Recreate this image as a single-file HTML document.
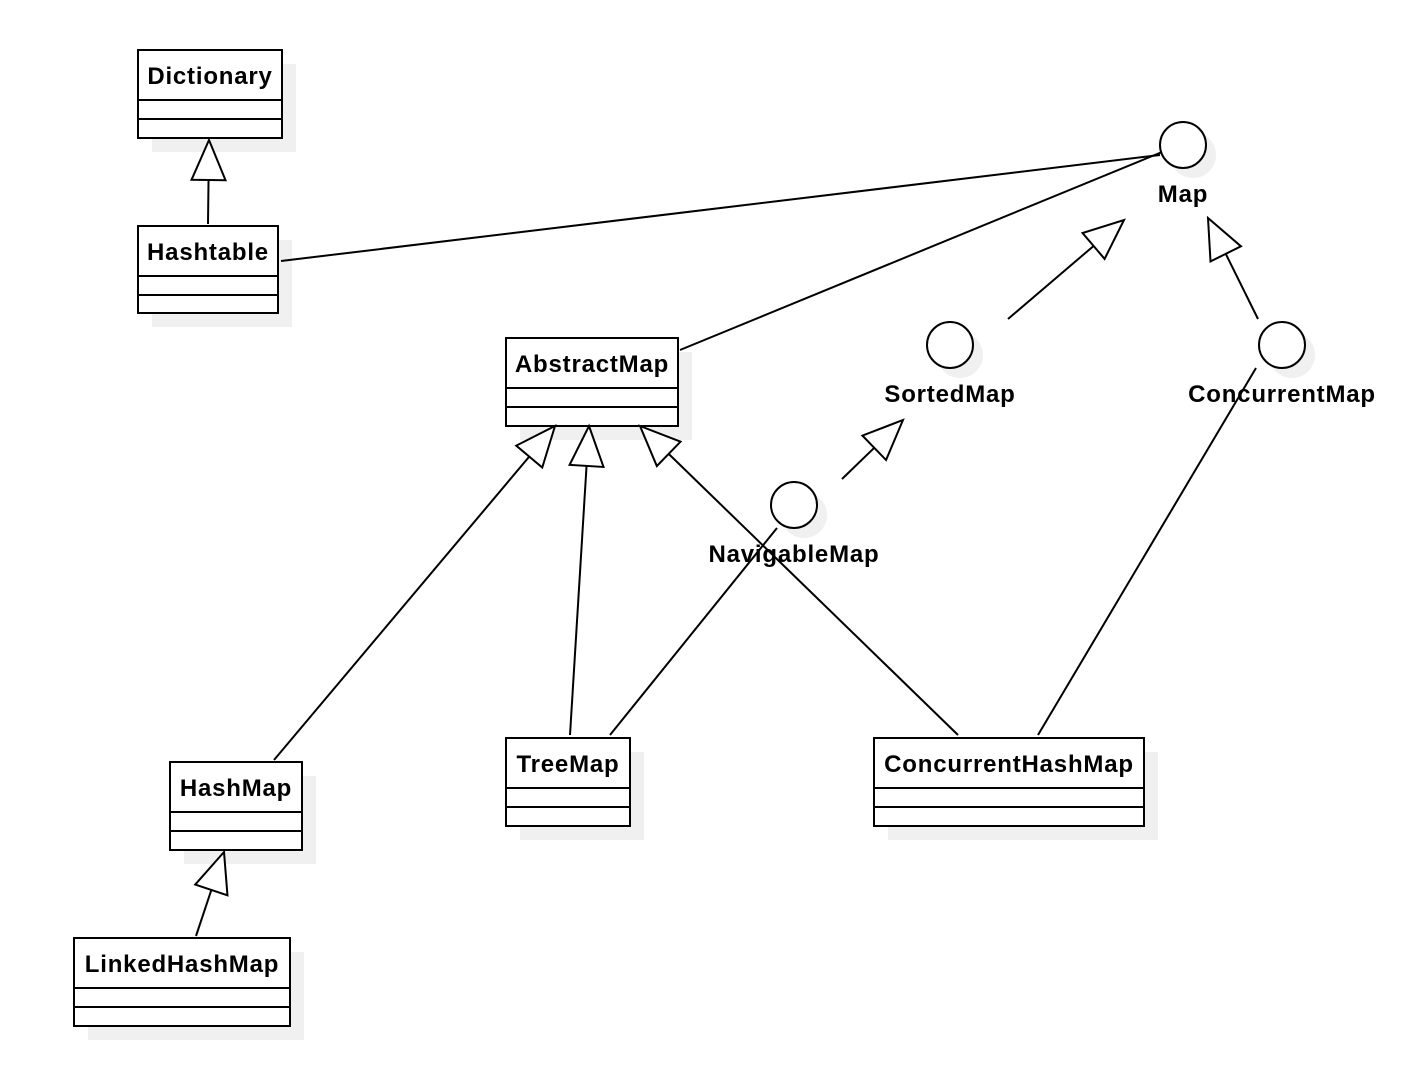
<!DOCTYPE html>
<html><head><meta charset="utf-8"><style>
html,body{margin:0;padding:0;background:#fff;}
svg{display:block;font-family:"Liberation Sans",Arial,sans-serif;}
</style></head><body>
<svg id="s" width="1412" height="1076" viewBox="0 0 1412 1076" xmlns="http://www.w3.org/2000/svg">
<g fill="#f0f0f0" stroke="none">
<rect x="152" y="64" width="144" height="88"/>
<rect x="152" y="240" width="140" height="87"/>
<rect x="520" y="352" width="172" height="88"/>
<rect x="184" y="776" width="132" height="88"/>
<rect x="520" y="752" width="124" height="88"/>
<rect x="888" y="752" width="270" height="88"/>
<rect x="88" y="952" width="216" height="88"/>
<circle cx="1193" cy="155" r="23"/><circle cx="960" cy="355" r="23"/><circle cx="1292" cy="355" r="23"/><circle cx="804" cy="515" r="23"/>
</g>
<g fill="#fff" stroke="#000" stroke-width="2">
<rect x="138" y="50" width="144" height="88"/><line x1="138" y1="100" x2="282" y2="100"/><line x1="138" y1="119" x2="282" y2="119"/>
<rect x="138" y="226" width="140" height="87"/><line x1="138" y1="276" x2="278" y2="276"/><line x1="138" y1="295" x2="278" y2="295"/>
<rect x="506" y="338" width="172" height="88"/><line x1="506" y1="388" x2="678" y2="388"/><line x1="506" y1="407" x2="678" y2="407"/>
<rect x="170" y="762" width="132" height="88"/><line x1="170" y1="812" x2="302" y2="812"/><line x1="170" y1="831" x2="302" y2="831"/>
<rect x="506" y="738" width="124" height="88"/><line x1="506" y1="788" x2="630" y2="788"/><line x1="506" y1="807" x2="630" y2="807"/>
<rect x="874" y="738" width="270" height="88"/><line x1="874" y1="788" x2="1144" y2="788"/><line x1="874" y1="807" x2="1144" y2="807"/>
<rect x="74" y="938" width="216" height="88"/><line x1="74" y1="988" x2="290" y2="988"/><line x1="74" y1="1007" x2="290" y2="1007"/>
<circle cx="1183" cy="145" r="23"/><circle cx="950" cy="345" r="23"/><circle cx="1282" cy="345" r="23"/><circle cx="794" cy="505" r="23"/>
</g>
<g stroke="#000" stroke-width="2" fill="none">
<line x1="281" y1="261" x2="1160" y2="155"/>
<line x1="680" y1="350" x2="1162" y2="152"/>
<line x1="610" y1="735" x2="777" y2="528"/>
<line x1="1038" y1="735" x2="1256" y2="368"/>
</g>
<g id="arr" stroke="#000" stroke-width="2" fill="#fff"></g>
<g font-weight="bold" font-size="24" letter-spacing="0.8" text-anchor="middle" fill="#000">
<text x="210" y="84">Dictionary</text>
<text x="208" y="260">Hashtable</text>
<text x="592" y="372">AbstractMap</text>
<text x="236" y="796">HashMap</text>
<text x="568" y="772">TreeMap</text>
<text x="1009" y="772">ConcurrentHashMap</text>
<text x="182" y="972">LinkedHashMap</text>
<text x="1183" y="202">Map</text>
<text x="950" y="402">SortedMap</text>
<text x="1282" y="402">ConcurrentMap</text>
<text x="794" y="562">NavigableMap</text>
</g>
</svg>
<script>
var g=document.getElementById('arr'),NS='http://www.w3.org/2000/svg';
function A(x1,y1,tx,ty){var dx=tx-x1,dy=ty-y1,L=Math.hypot(dx,dy);dx/=L;dy/=L;
var bx=tx-dx*40,by=ty-dy*40,px=-dy*17,py=dx*17;
var l=document.createElementNS(NS,'line');l.setAttribute('x1',x1);l.setAttribute('y1',y1);l.setAttribute('x2',bx);l.setAttribute('y2',by);g.appendChild(l);
var p=document.createElementNS(NS,'polygon');p.setAttribute('points',tx+','+ty+' '+(bx+px)+','+(by+py)+' '+(bx-px)+','+(by-py));g.appendChild(p);}
A(208,224,209,140);
A(1008,319,1124,220);
A(1258,319,1208,218);
A(842,479,903,420);
A(274,760,555,426);
A(570,735,589,426);
A(958,735,640,426);
A(196,936,224,852);
</script>
</body></html>
